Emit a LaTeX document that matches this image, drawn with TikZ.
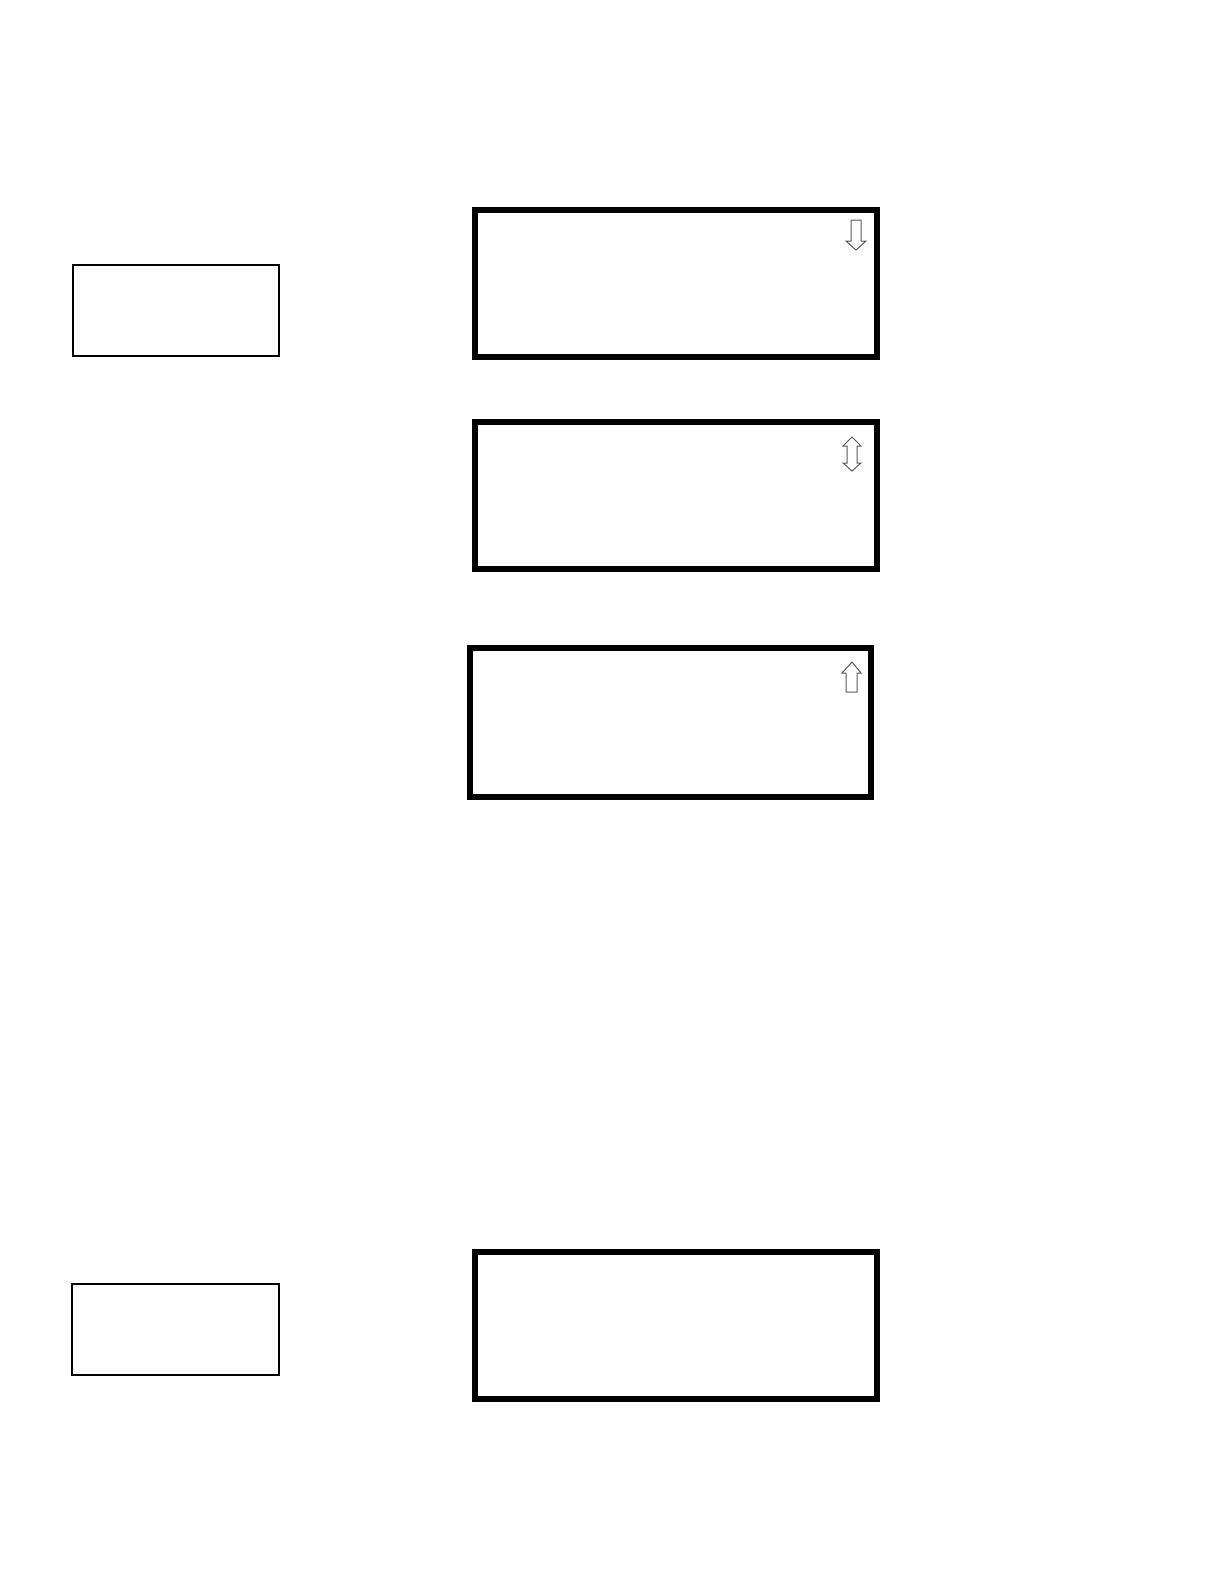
\documentclass[tikz,border=0pt]{standalone}
\begin{document}
\begin{tikzpicture}[x=0.01cm,y=-0.01cm,
  screen/.style={draw=black,line width=0.06cm,rectangle,inner sep=0pt,fill=white},
  keybox/.style={draw=black,line width=0.02cm,rectangle,inner sep=0pt,fill=white},
  scrollmark/.style={draw=black!65,line width=0.01cm,fill=white,line join=miter}]
\useasboundingbox[fill=white] (0,0) rectangle (1224,1584);
% left boxes
\node[keybox,minimum width=2.06cm,minimum height=0.91cm] (k1) at (176,310.5) {};
\node[keybox,minimum width=2.07cm,minimum height=0.91cm] (k2) at (175.5,1329.5) {};
% screens
\node[screen,minimum width=4.02cm,minimum height=1.47cm] (s1) at (676,283.5) {};
\node[screen,minimum width=4.02cm,minimum height=1.47cm] (s2) at (676,495.5) {};
\node[screen,minimum width=4.01cm,minimum height=1.49cm] (s3) at (670.5,722.5) {};
\node[screen,minimum width=4.02cm,minimum height=1.47cm] (s4) at (676,1325.5) {};
% scroll arrows
\draw[scrollmark] (851,220) -- (861,220) -- (861,241) -- (866,241) -- (856,250) -- (846,241) -- (851,241) -- cycle;
\draw[scrollmark] (852,437) -- (861,446) -- (857,446) -- (857,463) -- (861,463) -- (852,471) -- (843,463) -- (847,463) -- (847,446) -- (843,446) -- cycle;
\draw[scrollmark] (852,662) -- (861,673) -- (857,673) -- (857,692) -- (846,692) -- (846,673) -- (842,673) -- cycle;
\end{tikzpicture}
\end{document}
